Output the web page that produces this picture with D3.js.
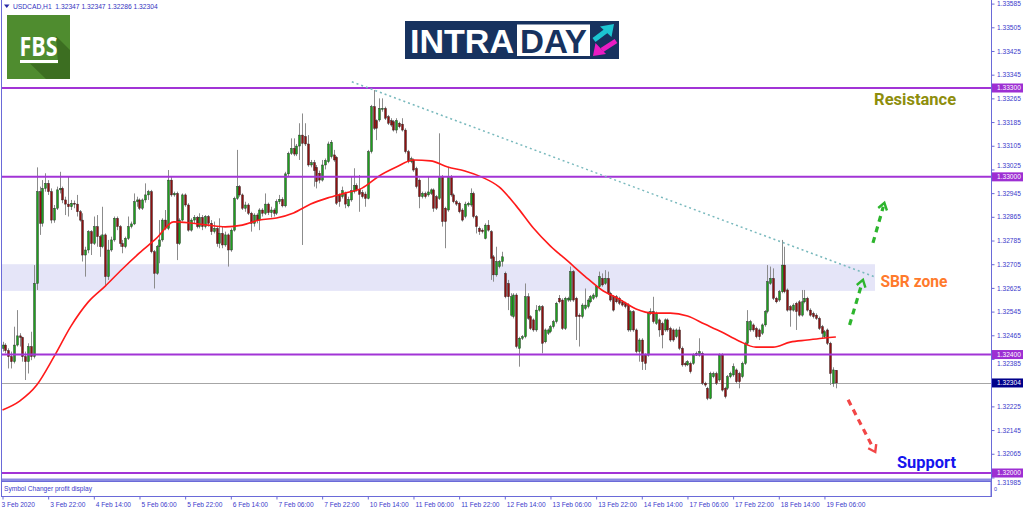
<!DOCTYPE html>
<html><head><meta charset="utf-8">
<script src="https://cdn.jsdelivr.net/npm/d3@7"></script>
<style>
html,body{margin:0;padding:0;background:#fff;overflow:hidden;}
svg{display:block;font-family:"Liberation Sans",Arial,sans-serif;}
</style></head>
<body><svg id="chart" width="1024" height="511"></svg>
<script>
const symbolName = "USDCAD,H1";
const opens = [1.32421,1.32432,1.32413,1.32393,1.32376,1.32432,1.32463,1.32458,1.32393,1.32376,
1.32427,1.32393,1.32640,1.32950,1.32843,1.32961,1.32978,1.32950,1.32854,1.32894,
1.32956,1.32961,1.32922,1.32908,1.32899,1.32911,1.32908,1.32882,1.32854,1.32736,
1.32753,1.32815,1.32775,1.32832,1.32798,1.32764,1.32804,1.32663,1.32753,1.32787,
1.32860,1.32832,1.32775,1.32764,1.32792,1.32832,1.32841,1.32916,1.32922,1.32894,
1.32922,1.32939,1.32950,1.32747,1.32674,1.32764,1.32787,1.32854,1.32826,1.32989,
1.32939,1.32944,1.32775,1.32854,1.32939,1.32905,1.32820,1.32854,1.32863,1.32832,
1.32863,1.32832,1.32866,1.32843,1.32815,1.32826,1.32775,1.32809,1.32770,1.32804,
1.32753,1.32820,1.32927,1.32967,1.32939,1.32894,1.32905,1.32877,1.32843,1.32871,
1.32854,1.32888,1.32877,1.32908,1.32879,1.32888,1.32877,1.32916,1.32924,1.32902,
1.33010,1.33079,1.33096,1.33077,1.33104,1.33141,1.33136,1.33111,1.33040,1.33048,
1.33032,1.33012,1.32989,1.33040,1.33051,1.33068,1.33074,1.33066,1.32939,1.32933,
1.32944,1.32902,1.32922,1.32950,1.32971,1.32958,1.32947,1.32942,1.32927,1.33085,
1.33237,1.33190,1.33192,1.33228,1.33231,1.33203,1.33190,1.33186,1.33158,1.33181,
1.33178,1.33158,1.33085,1.33051,1.33057,1.33028,1.32989,1.32933,1.32944,1.32939,
1.32944,1.32956,1.32933,1.32927,1.33001,1.32894,1.32888,1.33001,1.32939,1.32916,
1.32911,1.32888,1.32866,1.32905,1.32905,1.32944,1.32866,1.32826,1.32820,1.32792,
1.32837,1.32815,1.32730,1.32669,1.32697,1.32714,1.32674,1.32640,1.32533,1.32528,
1.32601,1.32421,1.32455,1.32460,1.32595,1.32528,1.32517,1.32483,1.32550,1.32562,
1.32443,1.32472,1.32477,1.32494,1.32511,1.32590,1.32584,1.32488,1.32584,1.32584,
1.32680,1.32590,1.32533,1.32528,1.32556,1.32562,1.32578,1.32590,1.32595,1.32629,
1.32657,1.32640,1.32657,1.32607,1.32595,1.32595,1.32590,1.32578,1.32573,1.32567,
1.32483,1.32545,1.32483,1.32410,1.32449,1.32398,1.32398,1.32539,1.32545,1.32505,
1.32517,1.32505,1.32483,1.32517,1.32488,1.32483,1.32460,1.32483,1.32421,1.32370,
1.32365,1.32370,1.32370,1.32398,1.32398,1.32404,1.32303,1.32286,1.32252,1.32325,
1.32336,1.32314,1.32398,1.32286,1.32286,1.32325,1.32331,1.32348,1.32336,1.32325,
1.32370,1.32438,1.32483,1.32500,1.32488,1.32483,1.32472,1.32500,1.32545,1.32640,
1.32657,1.32590,1.32584,1.32612,1.32702,1.32618,1.32562,1.32550,1.32573,1.32578,
1.32533,1.32578,1.32590,1.32550,1.32539,1.32533,1.32522,1.32494,1.32460,1.32483,
1.32438,1.32303,1.32347];
const highs = [1.32443,1.32438,1.32421,1.32410,1.32494,1.32550,1.32472,1.32460,1.32410,1.32438,
1.32477,1.32702,1.33032,1.32967,1.32989,1.33012,1.32989,1.32961,1.32905,1.32967,
1.33017,1.32967,1.32933,1.33001,1.32922,1.32920,1.32939,1.32888,1.32877,1.32764,
1.32820,1.32820,1.32866,1.32871,1.32804,1.32899,1.32809,1.32787,1.32798,1.32866,
1.32866,1.32837,1.32787,1.32798,1.32866,1.32849,1.32944,1.32933,1.32927,1.32927,
1.32978,1.32956,1.32956,1.32753,1.32770,1.32854,1.32860,1.32888,1.33023,1.33001,
1.32950,1.32950,1.32860,1.32944,1.32944,1.32911,1.32860,1.32871,1.32868,1.32877,
1.32871,1.32871,1.32871,1.32854,1.32849,1.32832,1.32860,1.32832,1.32815,1.32809,
1.32826,1.32933,1.33091,1.32972,1.32944,1.32916,1.32911,1.32882,1.32877,1.32877,
1.32894,1.32894,1.32944,1.32913,1.32899,1.32894,1.32924,1.32939,1.32931,1.33017,
1.33085,1.33130,1.33130,1.33111,1.33181,1.33214,1.33181,1.33141,1.33057,1.33057,
1.33040,1.33021,1.33057,1.33062,1.33119,1.33124,1.33091,1.33070,1.32944,1.32967,
1.32950,1.32933,1.33001,1.33029,1.32978,1.33006,1.32956,1.32950,1.33091,1.33243,
1.33293,1.33194,1.33265,1.33265,1.33237,1.33209,1.33198,1.33192,1.33198,1.33186,
1.33198,1.33164,1.33091,1.33068,1.33062,1.33034,1.32995,1.32950,1.32950,1.33001,
1.32961,1.32961,1.32939,1.33147,1.33006,1.32899,1.33034,1.33006,1.32944,1.32922,
1.32916,1.32894,1.32916,1.32916,1.32961,1.32950,1.32871,1.32832,1.32826,1.32843,
1.32854,1.32820,1.32736,1.32764,1.32719,1.32747,1.32680,1.32652,1.32607,1.32607,
1.32607,1.32460,1.32466,1.32640,1.32607,1.32533,1.32522,1.32567,1.32567,1.32567,
1.32488,1.32488,1.32500,1.32517,1.32578,1.32601,1.32590,1.32595,1.32595,1.32697,
1.32685,1.32595,1.32539,1.32573,1.32623,1.32590,1.32601,1.32607,1.32635,1.32680,
1.32674,1.32685,1.32680,1.32612,1.32601,1.32601,1.32595,1.32584,1.32578,1.32573,
1.32550,1.32550,1.32488,1.32455,1.32455,1.32404,1.32545,1.32556,1.32595,1.32545,
1.32522,1.32511,1.32522,1.32522,1.32494,1.32488,1.32488,1.32494,1.32427,1.32376,
1.32381,1.32376,1.32404,1.32410,1.32455,1.32410,1.32308,1.32291,1.32342,1.32342,
1.32342,1.32404,1.32404,1.32291,1.32331,1.32342,1.32370,1.32353,1.32342,1.32376,
1.32443,1.32550,1.32517,1.32505,1.32494,1.32488,1.32505,1.32550,1.32702,1.32697,
1.32691,1.32595,1.32618,1.32787,1.32764,1.32623,1.32567,1.32573,1.32578,1.32584,
1.32618,1.32618,1.32595,1.32556,1.32545,1.32539,1.32528,1.32500,1.32483,1.32488,
1.32443,1.32357,1.32347];
const lows = [1.32410,1.32404,1.32353,1.32353,1.32370,1.32427,1.32427,1.32376,1.32314,1.32336,
1.32381,1.32387,1.32618,1.32804,1.32832,1.32950,1.32939,1.32843,1.32845,1.32888,
1.32944,1.32911,1.32871,1.32866,1.32888,1.32894,1.32866,1.32849,1.32714,1.32663,
1.32742,1.32736,1.32770,1.32764,1.32730,1.32759,1.32635,1.32652,1.32747,1.32781,
1.32820,1.32764,1.32742,1.32759,1.32787,1.32826,1.32837,1.32899,1.32888,1.32888,
1.32913,1.32922,1.32742,1.32623,1.32669,1.32708,1.32781,1.32820,1.32820,1.32933,
1.32933,1.32719,1.32770,1.32849,1.32899,1.32815,1.32815,1.32843,1.32826,1.32826,
1.32820,1.32826,1.32832,1.32804,1.32809,1.32764,1.32759,1.32759,1.32764,1.32697,
1.32747,1.32815,1.32922,1.32933,1.32888,1.32882,1.32871,1.32815,1.32832,1.32843,
1.32820,1.32866,1.32871,1.32871,1.32863,1.32866,1.32871,1.32908,1.32897,1.32897,
1.33001,1.33074,1.33070,1.33070,1.33057,1.32770,1.33104,1.33034,1.33032,1.32967,
1.32961,1.32978,1.32984,1.33025,1.33046,1.33062,1.33051,1.32905,1.32899,1.32927,
1.32894,1.32897,1.32916,1.32944,1.32950,1.32882,1.32927,1.32899,1.32924,1.33079,
1.33158,1.33124,1.33186,1.33220,1.33192,1.33175,1.33169,1.33153,1.33147,1.33164,
1.33153,1.33079,1.33046,1.33046,1.33017,1.32961,1.32894,1.32927,1.32927,1.32933,
1.32939,1.32882,1.32888,1.32922,1.32832,1.32759,1.32882,1.32933,1.32911,1.32902,
1.32877,1.32849,1.32860,1.32899,1.32899,1.32860,1.32809,1.32804,1.32809,1.32789,
1.32815,1.32652,1.32646,1.32663,1.32691,1.32697,1.32590,1.32550,1.32528,1.32522,
1.32421,1.32359,1.32449,1.32455,1.32517,1.32483,1.32477,1.32477,1.32545,1.32404,
1.32438,1.32466,1.32472,1.32488,1.32505,1.32573,1.32483,1.32483,1.32578,1.32578,
1.32578,1.32449,1.32427,1.32522,1.32550,1.32556,1.32573,1.32584,1.32590,1.32623,
1.32629,1.32635,1.32601,1.32578,1.32545,1.32573,1.32567,1.32562,1.32556,1.32477,
1.32477,1.32477,1.32404,1.32376,1.32348,1.32348,1.32393,1.32533,1.32505,1.32500,
1.32460,1.32421,1.32477,1.32477,1.32443,1.32443,1.32455,1.32415,1.32359,1.32359,
1.32361,1.32336,1.32365,1.32395,1.32393,1.32297,1.32291,1.32246,1.32249,1.32320,
1.32297,1.32308,1.32275,1.32252,1.32280,1.32320,1.32325,1.32303,1.32286,1.32320,
1.32365,1.32432,1.32477,1.32477,1.32455,1.32449,1.32466,1.32494,1.32539,1.32635,
1.32584,1.32573,1.32578,1.32607,1.32607,1.32545,1.32494,1.32545,1.32483,1.32528,
1.32528,1.32573,1.32545,1.32528,1.32522,1.32517,1.32483,1.32455,1.32455,1.32432,
1.32297,1.32291,1.32286];
const closes = [1.32432,1.32413,1.32393,1.32376,1.32432,1.32463,1.32458,1.32393,1.32376,1.32427,
1.32393,1.32640,1.32950,1.32843,1.32961,1.32978,1.32950,1.32854,1.32894,1.32956,
1.32961,1.32922,1.32908,1.32899,1.32911,1.32908,1.32882,1.32854,1.32736,1.32753,
1.32815,1.32775,1.32832,1.32798,1.32764,1.32804,1.32663,1.32753,1.32787,1.32860,
1.32832,1.32775,1.32764,1.32792,1.32832,1.32841,1.32916,1.32922,1.32894,1.32922,
1.32939,1.32950,1.32747,1.32674,1.32764,1.32787,1.32854,1.32826,1.32989,1.32939,
1.32944,1.32775,1.32854,1.32939,1.32905,1.32820,1.32854,1.32863,1.32832,1.32863,
1.32832,1.32866,1.32843,1.32815,1.32826,1.32775,1.32809,1.32770,1.32804,1.32753,
1.32820,1.32927,1.32967,1.32939,1.32894,1.32905,1.32877,1.32843,1.32871,1.32854,
1.32888,1.32877,1.32908,1.32879,1.32888,1.32877,1.32916,1.32924,1.32902,1.33010,
1.33079,1.33096,1.33077,1.33104,1.33141,1.33113,1.33111,1.33040,1.33048,1.33021,
1.32984,1.32989,1.33040,1.33055,1.33111,1.33117,1.33057,1.32911,1.32916,1.32953,
1.32908,1.32924,1.32953,1.32971,1.32958,1.32941,1.32933,1.32927,1.33085,1.33237,
1.33164,1.33164,1.33231,1.33231,1.33198,1.33181,1.33175,1.33158,1.33190,1.33169,
1.33158,1.33085,1.33051,1.33061,1.33023,1.32967,1.32933,1.32944,1.32933,1.32949,
1.32956,1.32894,1.32894,1.33001,1.32849,1.32849,1.33001,1.32939,1.32916,1.32908,
1.32882,1.32854,1.32908,1.32911,1.32944,1.32866,1.32832,1.32815,1.32815,1.32837,
1.32820,1.32725,1.32669,1.32714,1.32714,1.32730,1.32595,1.32595,1.32595,1.32601,
1.32427,1.32455,1.32460,1.32595,1.32522,1.32488,1.32483,1.32550,1.32562,1.32438,
1.32483,1.32483,1.32494,1.32511,1.32573,1.32578,1.32488,1.32590,1.32590,1.32680,
1.32584,1.32528,1.32528,1.32567,1.32567,1.32584,1.32595,1.32601,1.32629,1.32663,
1.32635,1.32657,1.32607,1.32584,1.32550,1.32578,1.32573,1.32567,1.32562,1.32483,
1.32545,1.32483,1.32410,1.32449,1.32376,1.32370,1.32539,1.32545,1.32511,1.32539,
1.32483,1.32466,1.32517,1.32483,1.32449,1.32449,1.32483,1.32421,1.32365,1.32365,
1.32376,1.32342,1.32398,1.32404,1.32410,1.32303,1.32297,1.32252,1.32336,1.32336,
1.32303,1.32398,1.32280,1.32258,1.32325,1.32336,1.32359,1.32308,1.32308,1.32370,
1.32438,1.32511,1.32511,1.32483,1.32460,1.32460,1.32500,1.32545,1.32646,1.32657,
1.32590,1.32578,1.32612,1.32702,1.32612,1.32550,1.32550,1.32567,1.32545,1.32533,
1.32578,1.32590,1.32550,1.32533,1.32528,1.32522,1.32488,1.32472,1.32477,1.32438,
1.32336,1.32348,1.32304];

// moving average
const maBars = [0,6,12,18,24,30,36,42,48,54,60,66,72,78,84,90,96,102,108,114,120,126,132,138,144,150,156,162,168,174,180,186,192,198,204,210,216,222,228,234,240,246,252,258,264,270,276,282,288,292];
const maValues = [1.32213,1.32243,1.32297,1.32392,1.32496,1.32577,1.32631,1.32689,1.32743,1.32793,1.32848,1.32844,1.32837,1.32831,1.32837,1.32854,1.32861,1.32878,1.32908,1.32929,1.32945,1.32962,1.33003,1.33033,1.33057,1.33054,1.33033,1.33020,1.32999,1.32966,1.32902,1.32827,1.32766,1.32716,1.32665,1.32618,1.32588,1.32554,1.32540,1.32540,1.32530,1.32503,1.32476,1.32446,1.32425,1.32425,1.32442,1.32449,1.32456,1.32459];

const timeLabelBars = [0,16,32,48,64,80,96,112,128,144,160,176,192,208,224,240,256,272,288];
const timeLabels = ["3 Feb 2020","3 Feb 22:00","4 Feb 14:00","5 Feb 06:00","5 Feb 22:00","6 Feb 14:00","7 Feb 06:00","7 Feb 22:00","10 Feb 14:00","11 Feb 06:00","11 Feb 22:00","12 Feb 14:00","13 Feb 06:00","13 Feb 22:00","14 Feb 14:00","17 Feb 06:00","17 Feb 22:00","18 Feb 14:00","19 Feb 06:00"];
const priceTicks = [1.33585,1.33505,1.33425,1.33345,1.33265,1.33185,1.33105,1.33025,1.32945,1.32865,1.32785,1.32705,1.32625,1.32545,1.32465,1.32385,1.32305,1.32225,1.32145,1.32065,1.31985];
const levelPrices = [1.33300, 1.33000, 1.32400, 1.32000];
const currentPrice = 1.32304;
const zoneBars = [-2, 305.7];
const zonePrices = [1.32615, 1.32705];
const trendBars = [122.4, 305.7];
const trendPrices = [1.33321, 1.32662];
const arrowsUp = [[[296.8,1.32500],[301.5,1.32652]],[[305.0,1.32777],[309.0,1.32912]]];
const arrowsDown = [[[296.3,1.32247],[305.8,1.32071]]];
const notes = [
  {text:"Resistance", bar:305.4, price:1.33243, color:"#8e8e0c", width:82},
  {text:"SBR zone", bar:307.6, price:1.32628, color:"#ff7a2c", width:67},
  {text:"Support", bar:313.4, price:1.32017, color:"#1515ee", width:59}
];

const svg = d3.select('#chart');
const barStep = 2.854;
const x = d3.scaleLinear().domain([0, 292]).range([2.5, 2.5 + 292 * barStep]);
const y = d3.scaleLinear().domain([1.32, 1.333]).range([473, 88]);
const plotL = 2, plotR = 991, plotT = 0, plotB = 479;
const fmt = d3.format('.5f');

svg.append('rect').attr('width',1024).attr('height',511).attr('fill','#fff');
svg.append('defs').append('clipPath').attr('id','clip').append('rect')
  .attr('x',plotL).attr('y',plotT).attr('width',plotR-plotL).attr('height',plotB-plotT);
const g = svg.append('g').attr('clip-path','url(#clip)');

// SBR zone
g.append('rect')
  .attr('x', x(zoneBars[0])).attr('width', x(zoneBars[1]) - x(zoneBars[0]))
  .attr('y', y(zonePrices[1])).attr('height', y(zonePrices[0]) - y(zonePrices[1]))
  .attr('fill', '#e5e5f8');

// current price line
g.append('line').attr('x1',plotL).attr('x2',plotR)
  .attr('y1', Math.round(y(currentPrice))+0.5).attr('y2', Math.round(y(currentPrice))+0.5)
  .attr('stroke','#a6a6a6').attr('stroke-width',1);

// candles
const bars = closes.map((c,i)=>({i, o:opens[i], h:highs[i], l:lows[i], c}));
const cx = d => Math.round(x(d.i));
const cg = g.append('g');
cg.selectAll('line').data(bars).join('line')
  .attr('x1', d => cx(d)+0.5).attr('x2', d => cx(d)+0.5)
  .attr('y1', d => y(d.h)).attr('y2', d => y(d.l))
  .attr('stroke', '#8c8c8c').attr('stroke-width', 1);
cg.selectAll('rect').data(bars).join('rect')
  .attr('x', d => cx(d)-0.5).attr('width', 2)
  .attr('y', d => Math.min(y(d.o), y(d.c)))
  .attr('height', d => Math.max(1, Math.abs(y(d.o)-y(d.c))))
  .attr('fill', d => d.c >= d.o ? '#1e9e1e' : '#8e1010')
  .attr('stroke', '#222').attr('stroke-width', 0.4);

// moving average
g.append('path').datum(maBars.map((b,k)=>[b, maValues[k]]))
  .attr('d', d3.line().x(d=>x(d[0])).y(d=>y(d[1])).curve(d3.curveMonotoneX))
  .attr('fill','none').attr('stroke','#ff1a1a').attr('stroke-width',1.6);

// level lines
g.selectAll('line.lvl').data(levelPrices).join('line').attr('class','lvl')
  .attr('x1',plotL).attr('x2',plotR)
  .attr('y1', d=>y(d)).attr('y2', d=>y(d))
  .attr('stroke','#a234d6').attr('stroke-width',2);

// trend line
g.append('line')
  .attr('x1', x(trendBars[0])).attr('y1', y(trendPrices[0]))
  .attr('x2', x(trendBars[1])).attr('y2', y(trendPrices[1]))
  .attr('stroke','#79b9bd').attr('stroke-width',1.5).attr('stroke-dasharray','2,3');

// arrows
function drawArrow(a, color){
  const x1 = x(a[0][0]), y1 = y(a[0][1]), x2 = x(a[1][0]), y2 = y(a[1][1]);
  const ang = Math.atan2(y2-y1, x2-x1);
  g.append('line').attr('x1',x1).attr('y1',y1)
    .attr('x2', x2 - 4*Math.cos(ang)).attr('y2', y2 - 4*Math.sin(ang))
    .attr('stroke',color).attr('stroke-width',3.2).attr('stroke-dasharray','6,5');
  const L = 8, spread = 0.6;
  const p1 = [x2 - L*Math.cos(ang-spread), y2 - L*Math.sin(ang-spread)];
  const p2 = [x2 - L*Math.cos(ang+spread), y2 - L*Math.sin(ang+spread)];
  g.append('path').attr('d', `M${p1[0]},${p1[1]}L${x2},${y2}L${p2[0]},${p2[1]}`)
    .attr('fill','none').attr('stroke',color).attr('stroke-width',2.4);
}
arrowsUp.forEach(a=>drawArrow(a,'#2db52d'));
arrowsDown.forEach(a=>drawArrow(a,'#f24646'));

// notes
g.selectAll('text.note').data(notes).join('text').attr('class','note')
  .attr('x', d=>x(d.bar)).attr('y', d=>y(d.price))
  .attr('fill', d=>d.color).attr('font-family','Roboto, "Liberation Sans", sans-serif')
  .attr('font-weight','bold').attr('font-size',16)
  .attr('textLength', d=>d.width).attr('lengthAdjust','spacingAndGlyphs')
  .text(d=>d.text);

// frame
svg.append('line').attr('x1',1.5).attr('x2',1.5).attr('y1',0).attr('y2',497).attr('stroke','#6a6ad8');
svg.append('rect').attr('x',2).attr('y',478.5).attr('width',989).attr('height',3).attr('fill','#8b8be2');
svg.append('rect').attr('x',1.5).attr('y',481.5).attr('width',989.5).attr('height',15).attr('fill','#fff').attr('stroke','#6a6ad8');
svg.append('text').attr('x',4).attr('y',490.5).attr('font-size',6.6).attr('fill','#3a3acb').text('Symbol Changer profit display');

// price label boxes (values), used to hide/shift axis labels underneath
const boxData = levelPrices.map(p=>({p, fill:'#9d2fd3'})).concat([{p:currentPrice, fill:'#00008b'}]);

// right axis
const axR = svg.append('g').attr('transform',`translate(${plotR+0.5},0)`)
  .call(d3.axisRight(y).tickValues(priceTicks).tickSize(3).tickFormat(fmt));
axR.select('.domain').attr('stroke','#6a6ad8').attr('d','M0,0V497');
axR.selectAll('.tick line').attr('stroke','#6a6ad8');
axR.selectAll('.tick text').attr('font-size',6.6).attr('fill','#3a3acb').attr('x',5.5)
  .attr('font-family','"Liberation Sans",Arial,sans-serif')
  .each(function(d){
    const gap = d3.min(boxData, b => Math.abs(y(b.p) - y(d)));
    if (gap < 2) d3.select(this).remove();
    else if (gap < 9) {
      const below = d3.min(boxData.filter(b=>Math.abs(y(b.p)-y(d))<9), b => y(d) - y(b.p));
      d3.select(this).attr('dy', below > 0 ? '1.05em' : '-0.35em');
    }
  });

const boxes = svg.append('g').selectAll('g').data(boxData).join('g')
  .attr('transform', d=>`translate(${plotR+0.5},${y(d.p)})`);
boxes.append('rect').attr('x',0.5).attr('y',-4.5).attr('width',31).attr('height',9).attr('fill',d=>d.fill);
boxes.append('text').attr('x',5.5).attr('y',2.4).attr('font-size',6.6).attr('fill','#fff').text(d=>fmt(d.p));

// subwindow scale label
svg.append('text').attr('x',994).attr('y',490.5).attr('font-size',5.5).attr('fill','#3a3acb').text('0');

// time axis
const axB = svg.append('g').attr('transform','translate(0,496.5)')
  .call(d3.axisBottom(x).tickValues(timeLabelBars).tickSize(3).tickFormat((d,i)=>timeLabels[i]));
axB.select('.domain').remove();
axB.selectAll('.tick line').attr('stroke','#6a6ad8');
axB.selectAll('.tick text').attr('font-size',6.6).attr('fill','#3a3acb').attr('text-anchor','start')
  .attr('x',(d,i)=> i===0 ? -1.5 : 1.5).attr('y',6).attr('font-family','"Liberation Sans",Arial,sans-serif');

// header
svg.append('path').attr('d','M4,4.5L9.5,4.5L6.75,8Z').attr('fill','#2a2aa8');
svg.append('text').attr('x',13).attr('y',9.3).attr('font-size',6.7).attr('fill','#3333c0')
  .attr('xml:space','preserve')
  .text(`${symbolName}  ${fmt(opens[opens.length-1])} ${fmt(highs[highs.length-1])} ${fmt(lows[lows.length-1])} ${fmt(closes[closes.length-1])}`);

// FBS logo
const fbs = svg.append('g');
fbs.append('rect').attr('x',7).attr('y',15).attr('width',63).attr('height',64).attr('fill','#4f8c2f');
fbs.append('path').attr('d','M56,36L70,50L70,79L46,79L30,63.5L58,63.5Z').attr('fill','#3c6e21');
fbs.append('text').attr('x',19.5).attr('y',55.5).attr('font-size',27).attr('font-weight','bold')
  .attr('fill','#fff').attr('font-family','"Open Sans","Liberation Sans",sans-serif')
  .attr('textLength',38).attr('lengthAdjust','spacingAndGlyphs').text('FBS');
fbs.append('rect').attr('x',20).attr('y',60).attr('width',38).attr('height',3).attr('fill','#fff');

// INTRADAY logo
const it = svg.append('g');
it.append('rect').attr('x',405).attr('y',21).attr('width',214).attr('height',38).attr('fill','#17325f');
it.append('text').attr('x',410).attr('y',52.5).attr('font-size',34).attr('font-weight','bold')
  .attr('fill','#fff').attr('font-family','"Liberation Sans",Arial,sans-serif')
  .attr('textLength',104).attr('lengthAdjust','spacingAndGlyphs').text('INTRA');
it.append('rect').attr('x',517).attr('y',24.5).attr('width',73).attr('height',31.5).attr('fill','#fff');
it.append('text').attr('x',520).attr('y',52.5).attr('font-size',34).attr('font-weight','bold')
  .attr('fill','#17325f').attr('font-family','"Liberation Sans",Arial,sans-serif')
  .attr('textLength',67).attr('lengthAdjust','spacingAndGlyphs').text('DAY');
it.append('line').attr('x1',594).attr('y1',40).attr('x2',606).attr('y2',31).attr('stroke','#1cc5d2').attr('stroke-width',5);
it.append('path').attr('d','M614,24L600,26.5L611.5,37Z').attr('fill','#1cc5d2');
it.append('line').attr('x1',616).attr('y1',41).attr('x2',602).attr('y2',50).attr('stroke','#ea1cc3').attr('stroke-width',5);
it.append('path').attr('d','M593,56L595.5,43L606,54Z').attr('fill','#ea1cc3');
</script>
</body></html>
